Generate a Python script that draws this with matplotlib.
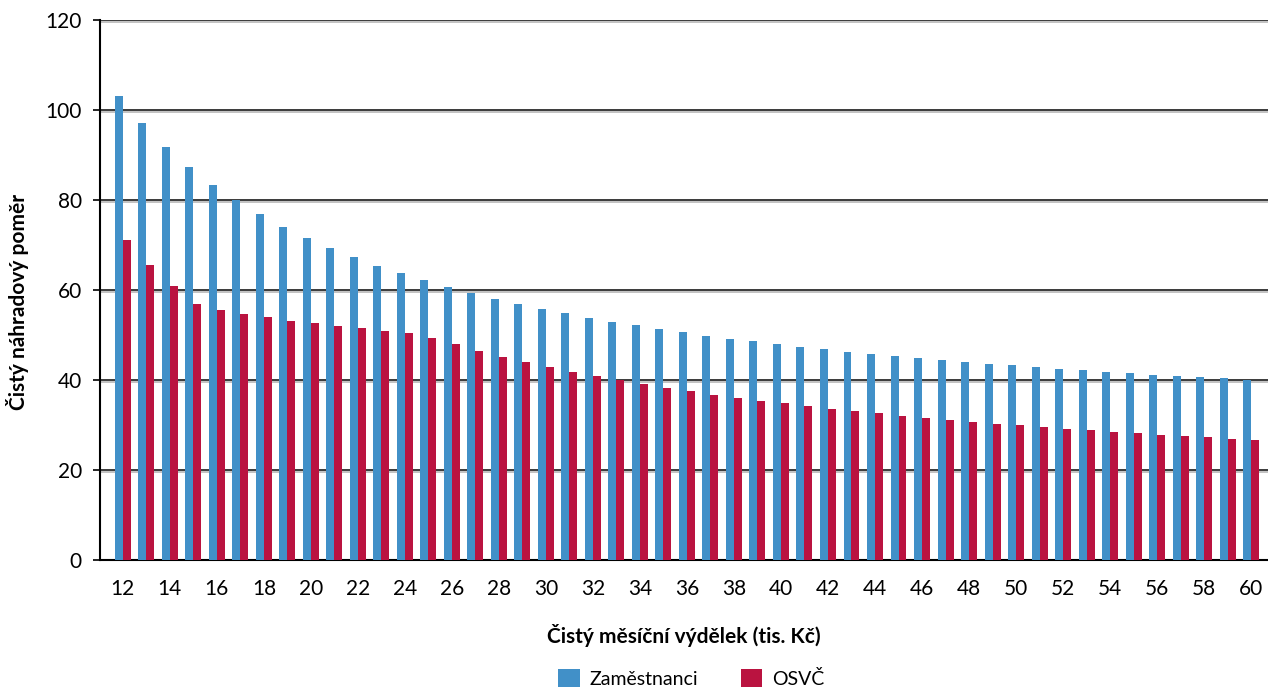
# Čistý náhradový poměr - zaměstnanci vs. OSVČ

import numpy as np
import matplotlib
matplotlib.use('Agg')
from matplotlib import pyplot as plt
import matplotlib.patheffects as pe

plt.rcParams['font.family'] = ['Lato', 'DejaVu Sans']

vydelek = list(range(12, 61))
zamestnanci = [103.1, 97.1, 91.8, 87.3, 83.3, 80.0, 76.9, 74.0, 71.6, 69.3,
               67.3, 65.3, 63.8, 62.2, 60.7, 59.3, 58.0, 56.9, 55.8, 54.9,
               53.8, 52.9, 52.2, 51.3, 50.7, 49.8, 49.1, 48.7, 48.0, 47.3,
               46.9, 46.2, 45.8, 45.3, 44.9, 44.4, 44.0, 43.6, 43.3, 42.9,
               42.4, 42.2, 41.8, 41.6, 41.1, 40.9, 40.7, 40.4, 40.0]
osvc = [71.1, 65.6, 60.9, 56.9, 55.6, 54.7, 54.0, 53.1, 52.7, 52.0,
        51.6, 50.9, 50.4, 49.3, 48.0, 46.4, 45.1, 44.0, 42.9, 41.8,
        40.9, 40.0, 39.1, 38.2, 37.6, 36.7, 36.0, 35.3, 34.9, 34.2,
        33.6, 33.1, 32.7, 32.0, 31.6, 31.1, 30.7, 30.2, 30.0, 29.6,
        29.1, 28.9, 28.4, 28.2, 27.8, 27.6, 27.3, 26.9, 26.7]

blue = '#4190C8'
red = '#BA1340'

fig = plt.figure(figsize=(12.68, 6.87), dpi=100)
ax = fig.add_axes([0.0789, 0.1849, 0.9211, 0.786])

x = np.arange(len(vydelek))
w = 0.34
ax.bar(x - w/2, zamestnanci, w, color=blue, label='Zaměstnanci', zorder=3)
ax.bar(x + w/2, osvc, w, color=red, label='OSVČ', zorder=3)

ax.set_ylim(0, 120)
ax.set_yticks(range(0, 121, 20))
ax.set_xlim(-0.97, 48.72)
ax.set_xticks(x[::2])
ax.set_xticklabels([str(v) for v in vydelek[::2]])

for yv in range(20, 121, 20):
    ax.axhline(yv, color='#3a3a3a', lw=1.4, zorder=1,
               path_effects=[pe.SimpleLineShadow(offset=(0, -1.5), shadow_color='#999999', alpha=0.6), pe.Normal()])

for s in ['top', 'right']:
    ax.spines[s].set_visible(False)
ax.spines['left'].set_linewidth(1.5)
ax.spines['bottom'].set_linewidth(1.5)
ax.tick_params(axis='y', length=5, width=1.2, labelsize=15, pad=8)
ax.tick_params(axis='x', length=0, labelsize=15, pad=14)

ax.set_xlabel('Čistý měsíční výdělek (tis. Kč)', fontsize=15, fontweight='bold', labelpad=18)
ax.set_ylabel('Čistý náhradový poměr', fontsize=15, fontweight='bold')
ax.yaxis.set_label_coords(-0.061, 0.478)

fig.legend(loc='center', bbox_to_anchor=(0.545, 0.013), ncol=2, frameon=False,
           fontsize=14, handlelength=1.1, handleheight=1.1, columnspacing=2.2, handletextpad=0.5)

plt.savefig('out.png', dpi=100)
